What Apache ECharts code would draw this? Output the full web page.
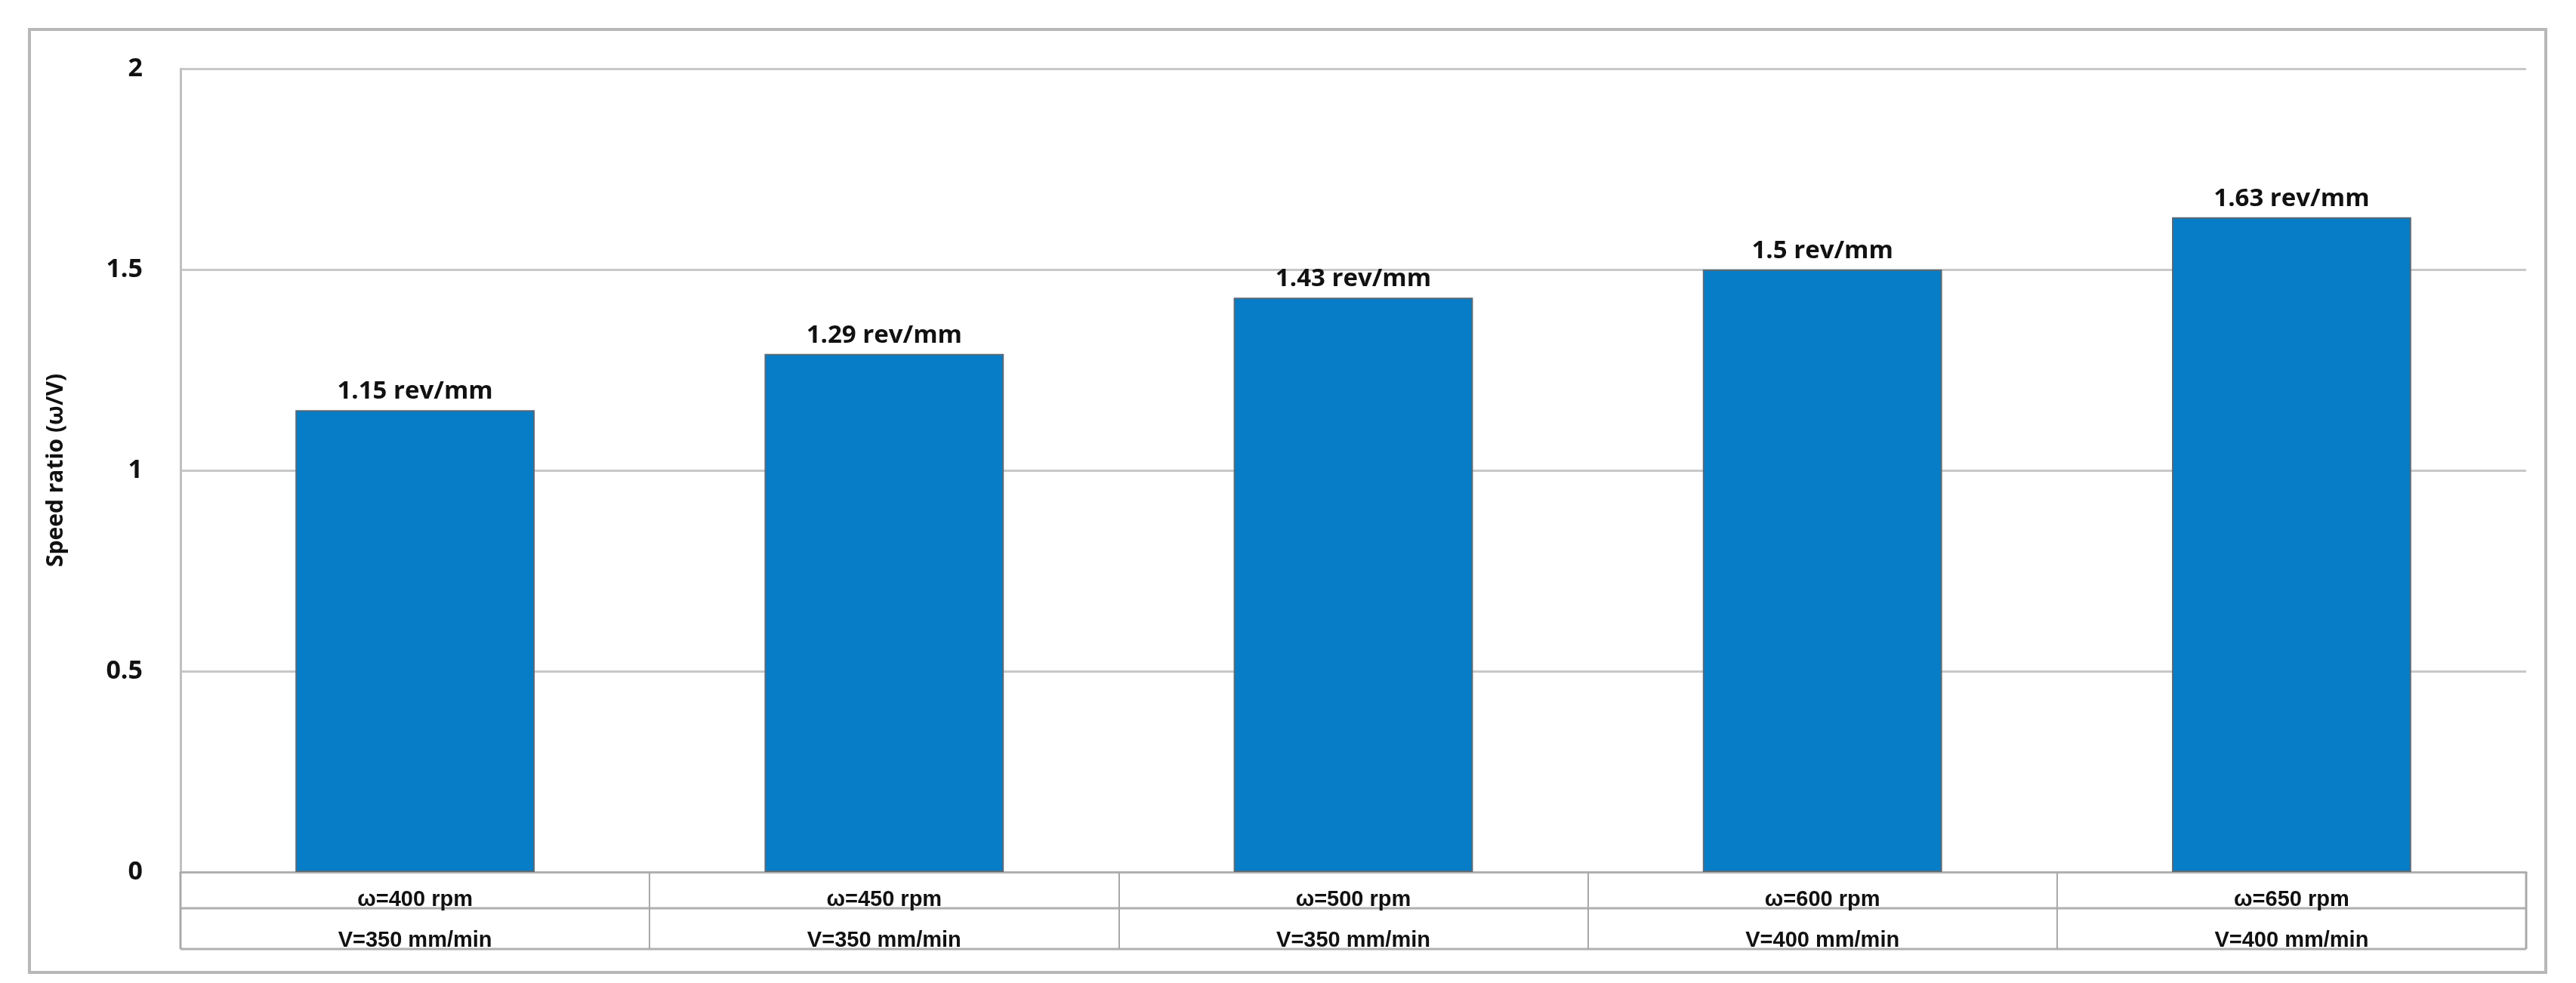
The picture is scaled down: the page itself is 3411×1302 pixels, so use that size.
<!DOCTYPE html>
<html><head><meta charset="utf-8">
<script src="https://cdn.jsdelivr.net/npm/echarts@6/dist/echarts.min.js"></script>
<style>html,body{margin:0;background:#fff}#c{width:3411px;height:1302px}</style>
</head><body><div id="c"></div>
<script>
const omegaLabels = ['ω=400 rpm','ω=450 rpm','ω=500 rpm','ω=600 rpm','ω=650 rpm'];
const vLabels = ['V=350 mm/min','V=350 mm/min','V=350 mm/min','V=400 mm/min','V=400 mm/min'];
const ratios = [1.15, 1.29, 1.43, 1.5, 1.63];
const yTicks = [0, 0.5, 1, 1.5, 2];
const categories = omegaLabels.map((o,i)=>o+'\n'+vLabels[i]);

const L=239, R=3345, T=91, B=1155;
const chart = echarts.init(document.getElementById('c'));
chart.setOption({
  animation:false,
  grid:{left:L, right:3411-R, top:T, bottom:1302-B},
  xAxis:{type:'category', data:categories,
    axisLine:{lineStyle:{color:'#b0b0b0',width:3}},
    axisTick:{show:true,length:102,lineStyle:{color:'#a8a8a8',width:2}},
    axisLabel:{interval:0, margin:10, lineHeight:54, color:'#111',
      fontFamily:'Liberation Sans', fontWeight:'bold', fontSize:29}},
  yAxis:{type:'value', min:0, max:2, interval:0.5,
    name:'Speed ratio (ω/V)', nameLocation:'middle', nameGap:150, nameRotate:90,
    nameTextStyle:{fontFamily:'Open Sans',fontWeight:'bold',fontSize:30,color:'#111'},
    axisLine:{show:true,lineStyle:{color:'#c0c0c0',width:3}},
    axisLabel:{formatter:v=>yTicks.includes(v)?String(v):'', margin:50,
      fontFamily:'Open Sans',fontWeight:'bold',fontSize:34,color:'#111'},
    splitLine:{lineStyle:{color:'#c8c8c8',width:3}}},
  series:[{type:'bar', data:ratios, barWidth:'51%',
    itemStyle:{color:'#067dc6', borderColor:'#5a6a78', borderWidth:2},
    label:{show:true, position:'top', distance:8, formatter:p=>p.value+' rev/mm',
      fontFamily:'Open Sans',fontWeight:'bold',fontSize:33,color:'#111'}}]
});
chart.setOption({graphic:[
  {type:'rect',shape:{x:39,y:39,width:3332,height:1249},style:{fill:null,stroke:'#b8b8b8',lineWidth:4},silent:true},
  {type:'line',shape:{x1:L,y1:1203,x2:R,y2:1203},style:{stroke:'#b0b0b0',lineWidth:3}},
  {type:'line',shape:{x1:L,y1:1257,x2:R,y2:1257},style:{stroke:'#b0b0b0',lineWidth:3}},
  {type:'line',shape:{x1:L,y1:1155,x2:L,y2:1257},style:{stroke:'#b0b0b0',lineWidth:3}},
  {type:'line',shape:{x1:R,y1:1155,x2:R,y2:1257},style:{stroke:'#b0b0b0',lineWidth:3}}
]});
</script></body></html>
